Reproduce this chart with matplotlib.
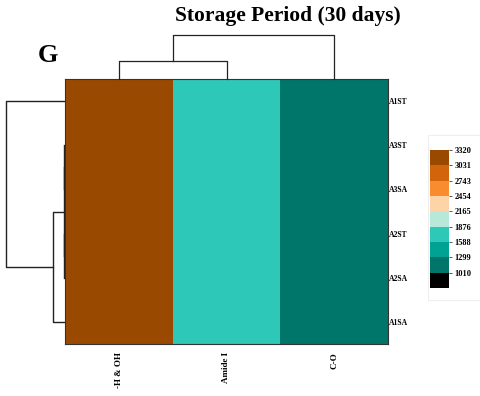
import numpy as np
import matplotlib
matplotlib.use("Agg")
import matplotlib.pyplot as plt
from matplotlib.colors import ListedColormap, BoundaryNorm
from matplotlib.cm import ScalarMappable
from matplotlib.patches import Rectangle

plt.rcParams['font.family'] = ['Liberation Serif', 'DejaVu Serif']
plt.rcParams['font.weight'] = 'bold'

# data
rows = ['A1ST', 'A3ST', 'A3SA', 'A2ST', 'A2SA', 'A1SA']
cols = ['-H & OH', 'Amide I', 'C-O']
oh = [3295, 3290, 3290, 3290, 3290, 3288]
amide = [1648, 1650, 1650, 1650, 1650, 1652]
co = [1080, 1078, 1078, 1078, 1078, 1075]

# legend bins (bottom to top)
bounds = [721, 1010, 1299, 1588, 1876, 2165, 2454, 2743, 3031, 3320]
bin_colors = ['#000000', '#00756A', '#00A393', '#2EC8B8', '#B8E8DA',
              '#FDD3A8', '#F98C2E', '#D2640C', '#9A4A00']
tick_vals = [1010, 1299, 1588, 1876, 2165, 2454, 2743, 3031, 3320]

# linkage: (child a, child b, height), ids >= n are merges
row_merges = [(1, 2, 0.0), (3, 4, 0.0), (6, 7, 0.0), (8, 5, 0.19), (0, 9, 1.0)]
col_merges = [(0, 1, 0.416), (3, 2, 1.0)]

values = np.column_stack([oh, amide, co])
cmap = ListedColormap(bin_colors)
norm = BoundaryNorm(bounds, cmap.N)


def draw_dendro(ax, n, merges, orient):
    pos = {i: i + 0.5 for i in range(n)}
    hgt = {i: 0.0 for i in range(n)}
    for k, (a, b, h) in enumerate(merges):
        pa, pb = pos[a], pos[b]
        xs = [hgt[a], h, h, hgt[b]]
        ys = [pa, pa, pb, pb]
        if orient == 'top':
            ax.plot(ys, xs, color='#222222', lw=0.9, clip_on=False)
        else:
            ax.plot(xs, ys, color='#222222', lw=1.0, clip_on=False)
        pos[n + k] = (pa + pb) / 2
        hgt[n + k] = h


fig = plt.figure(figsize=(4.8, 3.96), dpi=100)
W, H = 480, 396


def px_axes(x0, y0, x1, y1, **kw):
    return fig.add_axes([x0 / W, 1 - y1 / H, (x1 - x0) / W, (y1 - y0) / H], **kw)


# row dendrogram (drawn first so its zero-height lines show at the heatmap edge)
axr = px_axes(0, 79, 65, 344)
draw_dendro(axr, 6, row_merges, 'left')
axr.set_xlim(65 / 58.7, -0.02)
axr.set_ylim(6, 0)
axr.axis('off')

# heatmap
ax = px_axes(65, 79, 388, 344)
ax.pcolormesh(values, cmap=cmap, norm=norm, edgecolors='none')
ax.set_xlim(0, 3)
ax.set_ylim(6, 0)
ax.yaxis.tick_right()
ax.set_yticks(np.arange(6) + 0.5)
ax.set_yticklabels(rows, fontsize=5.5, fontweight='bold')
ax.set_xticks(np.arange(3) + 0.5)
ax.set_xticklabels(cols, fontsize=6.5, fontweight='bold', rotation=90, va='top')
ax.tick_params(length=0)
ax.tick_params(axis='y', pad=1)
ax.tick_params(axis='x', pad=6)
for s in ax.spines.values():
    s.set_color('#333333')
    s.set_linewidth(0.8)

# column dendrogram
axc = px_axes(65, 30, 388, 79)
draw_dendro(axc, 3, col_merges, 'top')
axc.set_xlim(0, 3)
axc.set_ylim(0, 49 / 44)
axc.axis('off')

# legend box and colorbar
fig.patches.append(Rectangle((428 / W, 1 - 300 / H), 52 / W, 165 / H,
                             transform=fig.transFigure, fill=False,
                             edgecolor='#eeeeee', lw=0.8))
cax = px_axes(430, 150, 449, 288)
sm = ScalarMappable(norm=norm, cmap=cmap)
cb = fig.colorbar(sm, cax=cax, ticks=tick_vals)
cb.outline.set_visible(False)
cb.ax.minorticks_off()
cb.ax.set_yticklabels([str(v) for v in tick_vals], fontsize=6, fontweight='bold')
cb.ax.tick_params(length=2, width=0.7, pad=2, color='#555555')

fig.text(288 / W, 1 - 21 / H, 'Storage Period (30 days)', ha='center', va='baseline',
         fontsize=15.5, fontweight='bold')
fig.text(38 / W, 1 - 62 / H, 'G', ha='left', va='baseline', fontsize=19, fontweight='bold')

fig.savefig('out.png', dpi=100)
